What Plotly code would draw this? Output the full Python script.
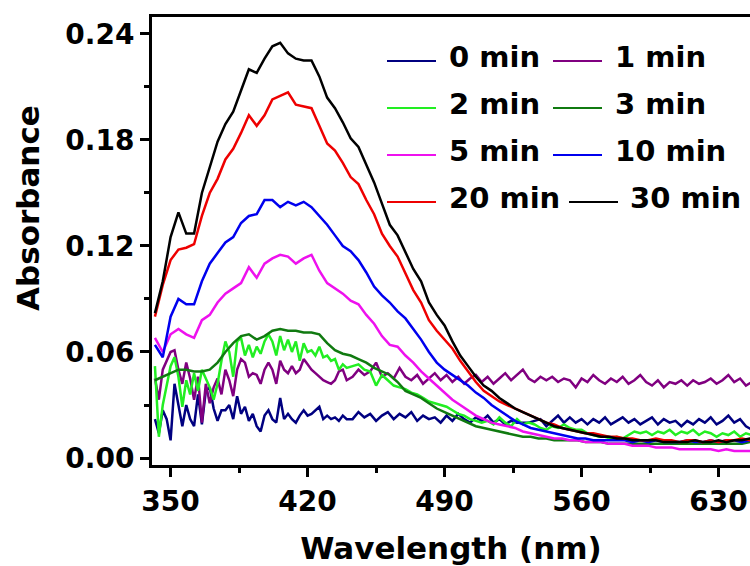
import plotly.graph_objects as go

# ---------------- data ----------------
# smooth spectra sampled every 4 nm
wl = list(range(342, 651, 4))

a_3min = [0.044, 0.046, 0.048, 0.050, 0.050, 0.049, 0.049, 0.050, 0.054, 0.060,
          0.065, 0.069, 0.070, 0.067, 0.069, 0.072, 0.073, 0.072, 0.072, 0.071,
          0.071, 0.070, 0.065, 0.061, 0.059, 0.058, 0.056, 0.054, 0.051, 0.049,
          0.047, 0.043, 0.038, 0.036, 0.034, 0.031, 0.028, 0.026, 0.024, 0.022,
          0.020, 0.018, 0.017, 0.016, 0.015, 0.014, 0.013, 0.012, 0.012, 0.011,
          0.011, 0.010, 0.010, 0.010, 0.010, 0.009, 0.009, 0.009, 0.008, 0.008,
          0.008, 0.008, 0.008, 0.008, 0.008, 0.008, 0.008, 0.008, 0.008, 0.008,
          0.008, 0.008, 0.008, 0.008, 0.008, 0.008, 0.009, 0.009]

a_5min = [0.068, 0.060, 0.070, 0.073, 0.070, 0.068, 0.078, 0.081, 0.088, 0.093,
          0.096, 0.099, 0.108, 0.102, 0.110, 0.113, 0.115, 0.114, 0.110, 0.113,
          0.115, 0.106, 0.099, 0.096, 0.093, 0.089, 0.087, 0.081, 0.076, 0.069,
          0.064, 0.063, 0.058, 0.054, 0.049, 0.045, 0.041, 0.037, 0.033, 0.030,
          0.027, 0.024, 0.022, 0.020, 0.019, 0.018, 0.017, 0.015, 0.014, 0.013,
          0.012, 0.011, 0.011, 0.010, 0.010, 0.009, 0.009, 0.009, 0.008, 0.008,
          0.008, 0.007, 0.007, 0.007, 0.006, 0.006, 0.006, 0.005, 0.005, 0.005,
          0.005, 0.005, 0.004, 0.005, 0.004, 0.004, 0.004, 0.004]

a_10min = [0.064, 0.057, 0.080, 0.090, 0.087, 0.087, 0.100, 0.110, 0.116, 0.122,
           0.125, 0.133, 0.137, 0.138, 0.146, 0.146, 0.142, 0.145, 0.143, 0.145,
           0.142, 0.137, 0.132, 0.126, 0.120, 0.117, 0.112, 0.105, 0.097, 0.092,
           0.088, 0.083, 0.079, 0.073, 0.067, 0.060, 0.054, 0.050, 0.047, 0.044,
           0.041, 0.037, 0.034, 0.030, 0.027, 0.024, 0.021, 0.019, 0.017, 0.016,
           0.015, 0.014, 0.013, 0.012, 0.011, 0.011, 0.010, 0.010, 0.010, 0.010,
           0.010, 0.009, 0.010, 0.009, 0.010, 0.009, 0.009, 0.009, 0.010, 0.009,
           0.009, 0.010, 0.009, 0.010, 0.010, 0.009, 0.010, 0.010]

a_20min = [0.080, 0.098, 0.112, 0.118, 0.119, 0.121, 0.137, 0.150, 0.158, 0.169,
           0.175, 0.184, 0.194, 0.188, 0.194, 0.203, 0.205, 0.207, 0.200, 0.199,
           0.198, 0.188, 0.178, 0.174, 0.167, 0.159, 0.155, 0.146, 0.138, 0.127,
           0.120, 0.114, 0.104, 0.095, 0.088, 0.078, 0.072, 0.067, 0.062, 0.055,
           0.049, 0.043, 0.038, 0.035, 0.032, 0.030, 0.028, 0.026, 0.024, 0.022,
           0.020, 0.019, 0.017, 0.016, 0.015, 0.014, 0.014, 0.013, 0.012, 0.012,
           0.011, 0.011, 0.010, 0.010, 0.011, 0.010, 0.010, 0.009, 0.010, 0.010,
           0.009, 0.010, 0.009, 0.010, 0.010, 0.011, 0.010, 0.011]

a_30min = [0.082, 0.100, 0.125, 0.139, 0.127, 0.127, 0.150, 0.165, 0.179, 0.189,
           0.196, 0.208, 0.220, 0.218, 0.226, 0.233, 0.235, 0.229, 0.226, 0.225,
           0.225, 0.216, 0.204, 0.198, 0.190, 0.181, 0.176, 0.166, 0.156, 0.144,
           0.132, 0.126, 0.116, 0.107, 0.100, 0.088, 0.081, 0.075, 0.066, 0.058,
           0.052, 0.046, 0.041, 0.038, 0.034, 0.031, 0.028, 0.026, 0.024, 0.022,
           0.020, 0.018, 0.017, 0.016, 0.015, 0.014, 0.013, 0.012, 0.012, 0.011,
           0.011, 0.010, 0.010, 0.010, 0.010, 0.009, 0.009, 0.009, 0.009, 0.010,
           0.009, 0.009, 0.010, 0.009, 0.010, 0.010, 0.011, 0.011]

# noisy early spectra: 2 nm steps up to 440 nm, 3 nm steps afterwards
wl_noisy = list(range(342, 441, 2)) + list(range(443, 651, 3))

a_0min = [0.022, 0.014, 0.027, 0.022, 0.010, 0.042, 0.030, 0.018, 0.030, 0.022,
          0.018, 0.036, 0.019, 0.038, 0.040, 0.028, 0.021, 0.027, 0.027, 0.030,
          0.022, 0.035, 0.025, 0.029, 0.021, 0.025, 0.018, 0.015, 0.024, 0.027,
          0.022, 0.020, 0.034, 0.022, 0.025, 0.022, 0.020, 0.024, 0.027, 0.024,
          0.025, 0.027, 0.029, 0.022, 0.024, 0.022, 0.023, 0.021, 0.024, 0.022,
          0.022, 0.026, 0.023, 0.025, 0.021, 0.024, 0.026, 0.022, 0.025, 0.023,
          0.026, 0.021, 0.024, 0.022, 0.023, 0.020, 0.024, 0.021, 0.025, 0.022,
          0.020, 0.023, 0.021, 0.024, 0.020, 0.022, 0.019, 0.021, 0.020, 0.020,
          0.020, 0.021, 0.022, 0.018, 0.021, 0.024, 0.020, 0.023, 0.020, 0.022,
          0.019, 0.022, 0.020, 0.023, 0.019, 0.021, 0.023, 0.020, 0.022, 0.019,
          0.021, 0.023, 0.019, 0.022, 0.020, 0.021, 0.018, 0.021, 0.019, 0.022,
          0.020, 0.023, 0.019, 0.021, 0.024, 0.020, 0.022, 0.018, 0.016, 0.019]

a_1min = [0.045, 0.033, 0.050, 0.055, 0.060, 0.061, 0.050, 0.042, 0.054, 0.045,
          0.033, 0.046, 0.020, 0.042, 0.031, 0.040, 0.045, 0.036, 0.050, 0.044,
          0.035, 0.050, 0.056, 0.054, 0.046, 0.048, 0.047, 0.042, 0.050, 0.054,
          0.050, 0.042, 0.055, 0.050, 0.048, 0.052, 0.048, 0.050, 0.056, 0.053,
          0.050, 0.048, 0.046, 0.044, 0.043, 0.042, 0.044, 0.049, 0.050, 0.044,
          0.046, 0.050, 0.047, 0.049, 0.054, 0.046, 0.048, 0.045, 0.051, 0.046,
          0.044, 0.047, 0.042, 0.045, 0.048, 0.044, 0.047, 0.043, 0.046, 0.042,
          0.045, 0.047, 0.043, 0.046, 0.042, 0.045, 0.048, 0.044, 0.047, 0.050,
          0.045, 0.043, 0.046, 0.044, 0.046, 0.043, 0.045, 0.044, 0.040, 0.045,
          0.043, 0.047, 0.044, 0.042, 0.045, 0.043, 0.046, 0.042, 0.044, 0.047,
          0.043, 0.041, 0.044, 0.040, 0.043, 0.042, 0.044, 0.041, 0.044, 0.042,
          0.043, 0.045, 0.042, 0.044, 0.047, 0.043, 0.045, 0.041, 0.043, 0.045]

a_2min = [0.052, 0.012, 0.030, 0.042, 0.052, 0.057, 0.046, 0.029, 0.044, 0.036,
          0.048, 0.038, 0.050, 0.045, 0.040, 0.033, 0.042, 0.055, 0.066, 0.060,
          0.046, 0.066, 0.068, 0.058, 0.064, 0.057, 0.063, 0.059, 0.066, 0.070,
          0.066, 0.058, 0.069, 0.061, 0.067, 0.060, 0.066, 0.055, 0.065, 0.060,
          0.061, 0.058, 0.063, 0.057, 0.058, 0.055, 0.056, 0.050, 0.053, 0.051,
          0.052, 0.053, 0.050, 0.049, 0.041, 0.047, 0.044, 0.041, 0.040, 0.039,
          0.037, 0.036, 0.034, 0.032, 0.031, 0.030, 0.029, 0.027, 0.025, 0.024,
          0.022, 0.021, 0.020, 0.021, 0.019, 0.023, 0.020, 0.018, 0.022, 0.019,
          0.020, 0.019, 0.017, 0.016, 0.018, 0.017, 0.019, 0.017, 0.016, 0.016,
          0.014, 0.013, 0.012, 0.012, 0.011, 0.012, 0.011, 0.013, 0.015, 0.014,
          0.015, 0.013, 0.015, 0.014, 0.016, 0.013, 0.015, 0.014, 0.016, 0.013,
          0.015, 0.014, 0.012, 0.014, 0.013, 0.015, 0.012, 0.014, 0.013, 0.015]

labels = ["0 min", "1 min", "2 min", "3 min", "5 min", "10 min", "20 min", "30 min"]
colors = ["#000080", "#800080", "#22EE22", "#107A10",
          "#EE11EE", "#0000EE", "#EE0000", "#000000"]
x_sets = [wl_noisy, wl_noisy, wl_noisy, wl, wl, wl, wl, wl]
y_sets = [a_0min, a_1min, a_2min, a_3min, a_5min, a_10min, a_20min, a_30min]

x_ticks = [350, 420, 490, 560, 630]
y_ticks = [0.00, 0.06, 0.12, 0.18, 0.24]

# ---------------- figure ----------------
FW, FH = 750, 566
ML, MR, MT, MB = 152, 0, 17, 101
PW, PH = FW - ML - MR, FH - MT - MB
FONT = "DejaVu Sans"

fig = go.Figure()
for name, col, xs, ys in zip(labels, colors, x_sets, y_sets):
    fig.add_trace(go.Scatter(x=xs, y=ys, mode="lines", name=name,
                             line=dict(color=col, width=2.5), showlegend=False))


def paper(px, py):
    return (px - ML) / PW, (MT + PH - py) / PH


# two-column key drawn in the upper right of the plot
key_rows = [61, 108, 155, 202]
key_cols = [(387, 436, 447), (553, 602, 613)]
for i, (name, col) in enumerate(zip(labels, colors)):
    r, c = divmod(i, 2)
    x0, x1, xt = key_cols[c]
    if r == 3 and c == 1:
        x0, x1, xt = 569, 618, 628
    y = key_rows[r]
    px0, py0 = paper(x0, y)
    px1, _ = paper(x1, y)
    fig.add_shape(type="line", xref="paper", yref="paper",
                  x0=px0, x1=px1, y0=py0, y1=py0,
                  line=dict(color=col, width=2))
    tx, ty = paper(xt, y - 4)
    fig.add_annotation(xref="paper", yref="paper", x=tx, y=ty,
                       text=name, showarrow=False, xanchor="left", yanchor="middle",
                       font=dict(family=FONT, size=29, color="black", weight="bold"))

# y-axis title, placed a little above the plot's mid-height
tx, ty = paper(28, 208)
fig.add_annotation(xref="paper", yref="paper", x=tx, y=ty, text="Absorbance",
                   textangle=-90, showarrow=False, xanchor="center", yanchor="middle",
                   font=dict(family=FONT, size=31, color="black", weight="bold"))

fig.update_layout(
    width=FW, height=FH,
    margin=dict(l=ML, r=MR, t=MT, b=MB, autoexpand=False),
    paper_bgcolor="white", plot_bgcolor="white",
    font=dict(family=FONT, color="black"),
    showlegend=False,
)

fig.update_xaxes(
    range=[340.5, 340.5 + PW / 1.957],
    tickvals=x_ticks, ticktext=[str(v) for v in x_ticks],
    ticks="outside", ticklen=9, tickwidth=3, tickcolor="black",
    minor=dict(tickvals=[385, 455, 525, 595], ticks="outside", ticklen=5,
               tickwidth=3, tickcolor="black"),
    showline=True, linewidth=3, linecolor="black", mirror=True,
    showgrid=False, zeroline=False,
    tickfont=dict(family=FONT, size=28, weight="bold"),
    title=dict(text="Wavelength (nm)", standoff=21,
               font=dict(family=FONT, size=31, weight="bold")),
    automargin=False,
)

fig.update_yaxes(
    range=[-0.00396, 0.2496],
    tickvals=y_ticks, ticktext=["%.2f" % v for v in y_ticks],
    ticks="outside", ticklen=9, tickwidth=3, tickcolor="black",
    minor=dict(tickvals=[0.03, 0.09, 0.15, 0.21], ticks="outside", ticklen=5,
               tickwidth=3, tickcolor="black"),
    showline=True, linewidth=3, linecolor="black", mirror=False,
    showgrid=False, zeroline=False,
    tickfont=dict(family=FONT, size=28, weight="bold"),
    automargin=False,
)

fig.write_html("out.html")
